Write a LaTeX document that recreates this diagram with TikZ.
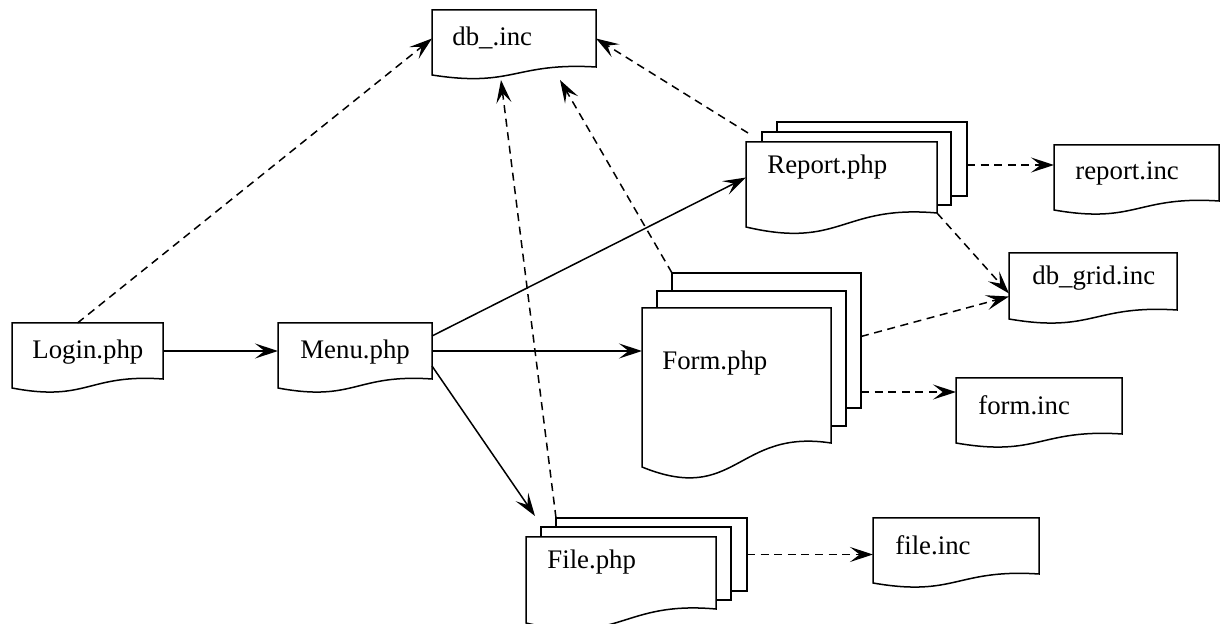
\documentclass[tikz,border=0pt]{standalone}
\usepackage{fontspec}
\setmainfont{Liberation Serif}
\usetikzlibrary{arrows.meta,calc,fit}

\tikzset{
  page/.style={draw=black, fill=white, line width=0.75pt, line join=miter},
  backpage/.style={page, rectangle, inner sep=0pt, outer sep=0pt},
  frame/.style={rectangle, inner sep=0pt, outer sep=0pt},
  lbl/.style={anchor=west, inner sep=0pt, font=\fontsize{13.4}{15}\selectfont},
  link/.style={line width=0.75pt, -{Stealth[length=11.5pt, width=7.5pt, inset=4.8pt]}},
  uses/.style={link, dash pattern=on 4pt off 2.8pt},
}

% document page: name, left x, top y, right x, right-bottom y, left-bottom y
\newcommand\docshape[6]{%
  \node[frame, fit={(#2,#3) (#4,#5)}] (#1) {};
  \draw[page] (#1.south east) -- (#1.north east) -- (#1.north west) -- (#2,#6)
    .. controls ($(#1.south)+(0,{2.6*(#6-#5)})$) and ($(#1.south)+(0,{-0.6*(#6-#5)})$)
    .. (#1.south east) -- cycle;
}

\begin{document}
\begin{tikzpicture}[x=0.5pt, y=-0.5pt]
\useasboundingbox[fill=white] (0,0) rectangle (1226,624);

% single pages
\docshape{login}{12}{323}{163}{379}{388}
\docshape{menu}{278}{323}{432}{379}{388}
\docshape{db}{432}{10}{596}{67}{75}
\docshape{repinc}{1054}{145}{1219}{201}{210}
\docshape{dbgrid}{1009}{253}{1177}{310}{319}
\docshape{forminc}{956}{378}{1122}{434}{443}
\docshape{fileinc}{873}{518}{1039}{574}{583}

% stacked pages
\node[backpage, fit={(777,122) (967,196)}] (rep3) {};
\node[backpage, fit={(762,132) (951,205)}] (rep2) {};
\docshape{rep}{746}{142}{937}{213}{227}

\node[backpage, fit={(672,273) (861,408)}] (form3) {};
\node[backpage, fit={(657,291) (846,426)}] (form2) {};
\docshape{form}{642}{308}{831}{443}{467}

\node[backpage, fit={(556,518) (747,591)}] (file3) {};
\node[backpage, fit={(541,527) (731,600)}] (file2) {};
\docshape{file}{526}{537}{716}{609}{623}

% page flow
\draw[link] (login.east) -- (menu.west);
\draw[link] ([shift={(0,-15)}]menu.east) -- (rep.west);
\draw[link] (menu.east) -- (menu.east -| form.west);
\draw[link] ([shift={(0,15)}]menu.east) -- ([shift={(9,-21)}]file.north west);

% includes
\draw[uses] ([shift={(-10,0)}]login.north) -- (db.west);
\draw[uses] (file3.north west) -- ([shift={(-13,13)}]db.south);
\draw[uses] (form3.north west) -- ([shift={(46,13)}]db.south);
\draw[uses] ([shift={(2,-9)}]rep.north west) -- (db.east);
\draw[uses] ($(rep3.east)+(0,6)$) -- ($(rep3.east -| repinc.west)+(0,6)$);
\draw[uses] (rep.south east) -- ([shift={(0,12)}]dbgrid.west);
\draw[uses] ([shift={(0,-4)}]form3.east) -- ([shift={(0,15)}]dbgrid.west);
\draw[uses] ($(form3.east)+(0,51.5)$) -- ($(form3.east -| forminc.west)+(0,51.5)$);
\draw[uses] (file3.east) -- (file3.east -| fileinc.west);

% labels
\node[lbl] at ($(login.north west)+(20,29)$) {Login.php};
\node[lbl] at ($(menu.north west)+(22,29)$) {Menu.php};
\node[lbl] at ($(db.north west)+(20,28)$) {db\_.inc};
\node[lbl] at ($(rep.north west)+(21,25)$) {Report.php};
\node[lbl] at ($(form.north west)+(20,55)$) {Form.php};
\node[lbl] at ($(file.north west)+(21,25)$) {File.php};
\node[lbl] at ($(repinc.north west)+(21,28)$) {report.inc};
\node[lbl] at ($(dbgrid.north west)+(23,25)$) {db\_grid.inc};
\node[lbl] at ($(forminc.north west)+(22,27)$) {form.inc};
\node[lbl] at ($(fileinc.north west)+(22,27)$) {file.inc};
\end{tikzpicture}
\end{document}
